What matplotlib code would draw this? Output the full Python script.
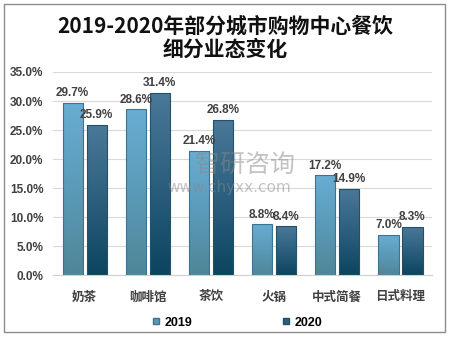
import numpy as np
import matplotlib
matplotlib.use('Agg')
import matplotlib.pyplot as plt
from matplotlib.colors import LinearSegmentedColormap
from matplotlib.patches import Rectangle
from matplotlib.lines import Line2D

plt.rcParams['font.family'] = ['Noto Sans CJK SC', 'DejaVu Sans']

categories = ['奶茶', '咖啡馆', '茶饮', '火锅', '中式简餐', '日式料理']
vals_2019 = [29.7, 28.6, 21.4, 8.8, 17.2, 7.0]
vals_2020 = [25.9, 31.4, 26.8, 8.4, 14.9, 8.3]
series_names = ['2019', '2020']
title = '2019-2020年部分城市购物中心餐饮\n细分业态变化'

text_color = '#404040'
num_font = 'Liberation Sans'

fig = plt.figure(figsize=(4.5, 3.38), dpi=100)
ax = fig.add_axes([0.118, 0.186, 0.842, 0.601])

# outer border
fig.patches.append(Rectangle((4 / 450, 1 - 332 / 338), 441 / 450, 328 / 338,
                             transform=fig.transFigure, fill=False,
                             edgecolor='#8c8c8c', linewidth=1.0))

x = np.arange(len(categories))
w = 0.32
off = 0.19

grads = [
    LinearSegmentedColormap.from_list('g19', ['#4f8798', '#5b9ab8', '#68add3']),
    LinearSegmentedColormap.from_list('g20', ['#0c4560', '#2c5f7e', '#4a7899']),
]
edges = ['#3d7390', '#24506a']

for k, vals in enumerate([vals_2019, vals_2020]):
    xs = x + (off if k else -off)
    bars = ax.bar(xs, np.array(vals) / 100, width=w, facecolor='none',
                  edgecolor=edges[k], linewidth=0.8, zorder=3)
    for b, v in zip(bars, vals):
        bx, by = b.get_x(), b.get_y()
        bw, bh = b.get_width(), b.get_height()
        grad = np.linspace(0, 1, 100).reshape(-1, 1)
        im = ax.imshow(grad, cmap=grads[k], origin='lower', aspect='auto',
                       extent=[bx, bx + bw, by, by + bh], zorder=2)
        im.set_clip_path(b)
        ax.text(bx + bw / 2, by + bh + 0.006, f'{v:.1f}%', ha='center', va='bottom',
                fontsize=8.5, fontweight='bold', family=num_font, color=text_color, zorder=4)

ax.set_xlim(-0.5, len(categories) - 0.5)
ax.set_ylim(0, 0.35)
ax.set_yticks(np.arange(0, 0.351, 0.05))
ax.set_yticklabels([f'{t * 100:.1f}%' for t in np.arange(0, 0.351, 0.05)],
                   family=num_font, fontweight='bold', fontsize=8.5, color=text_color)
ax.set_xticks(x)
ax.set_xticklabels(categories, fontsize=9, fontweight='bold', color=text_color)
ax.tick_params(axis='y', length=0, pad=7)
ax.tick_params(axis='x', length=0, pad=11)
ax.grid(axis='y', color='#d9d9d9', linewidth=0.8, zorder=0)
ax.set_axisbelow(True)
for s in ['top', 'right', 'left']:
    ax.spines[s].set_visible(False)
ax.spines['bottom'].set_color('#d0d0d0')

fig.text(0.5, 0.955, title, ha='center', va='top', fontsize=15,
         fontweight='bold', color='#111111', linespacing=1.15)

# watermark
fig.text(0.545, 1 - 165 / 338, '智研咨询', ha='center', va='center', fontsize=18,
         color='#888888', alpha=0.5, zorder=10)
fig.text(0.51, 1 - 188 / 338, 'www.chyxx.com', ha='center', va='center', fontsize=11,
         color='#888888', alpha=0.5, family='DejaVu Sans', zorder=10)

handles = [Line2D([], [], marker='s', linestyle='none', markersize=5,
                  markerfacecolor=c, markeredgecolor=e)
           for c, e in zip(['#5b9ab8', '#2c5f7e'], edges)]
fig.legend(handles, series_names, loc='center', bbox_to_anchor=(0.525, 0.045),
           ncol=2, frameon=False, columnspacing=7, handletextpad=0.2,
           handlelength=1, prop={'family': num_font, 'weight': 'bold', 'size': 9})

fig.savefig('out.png', dpi=100)
